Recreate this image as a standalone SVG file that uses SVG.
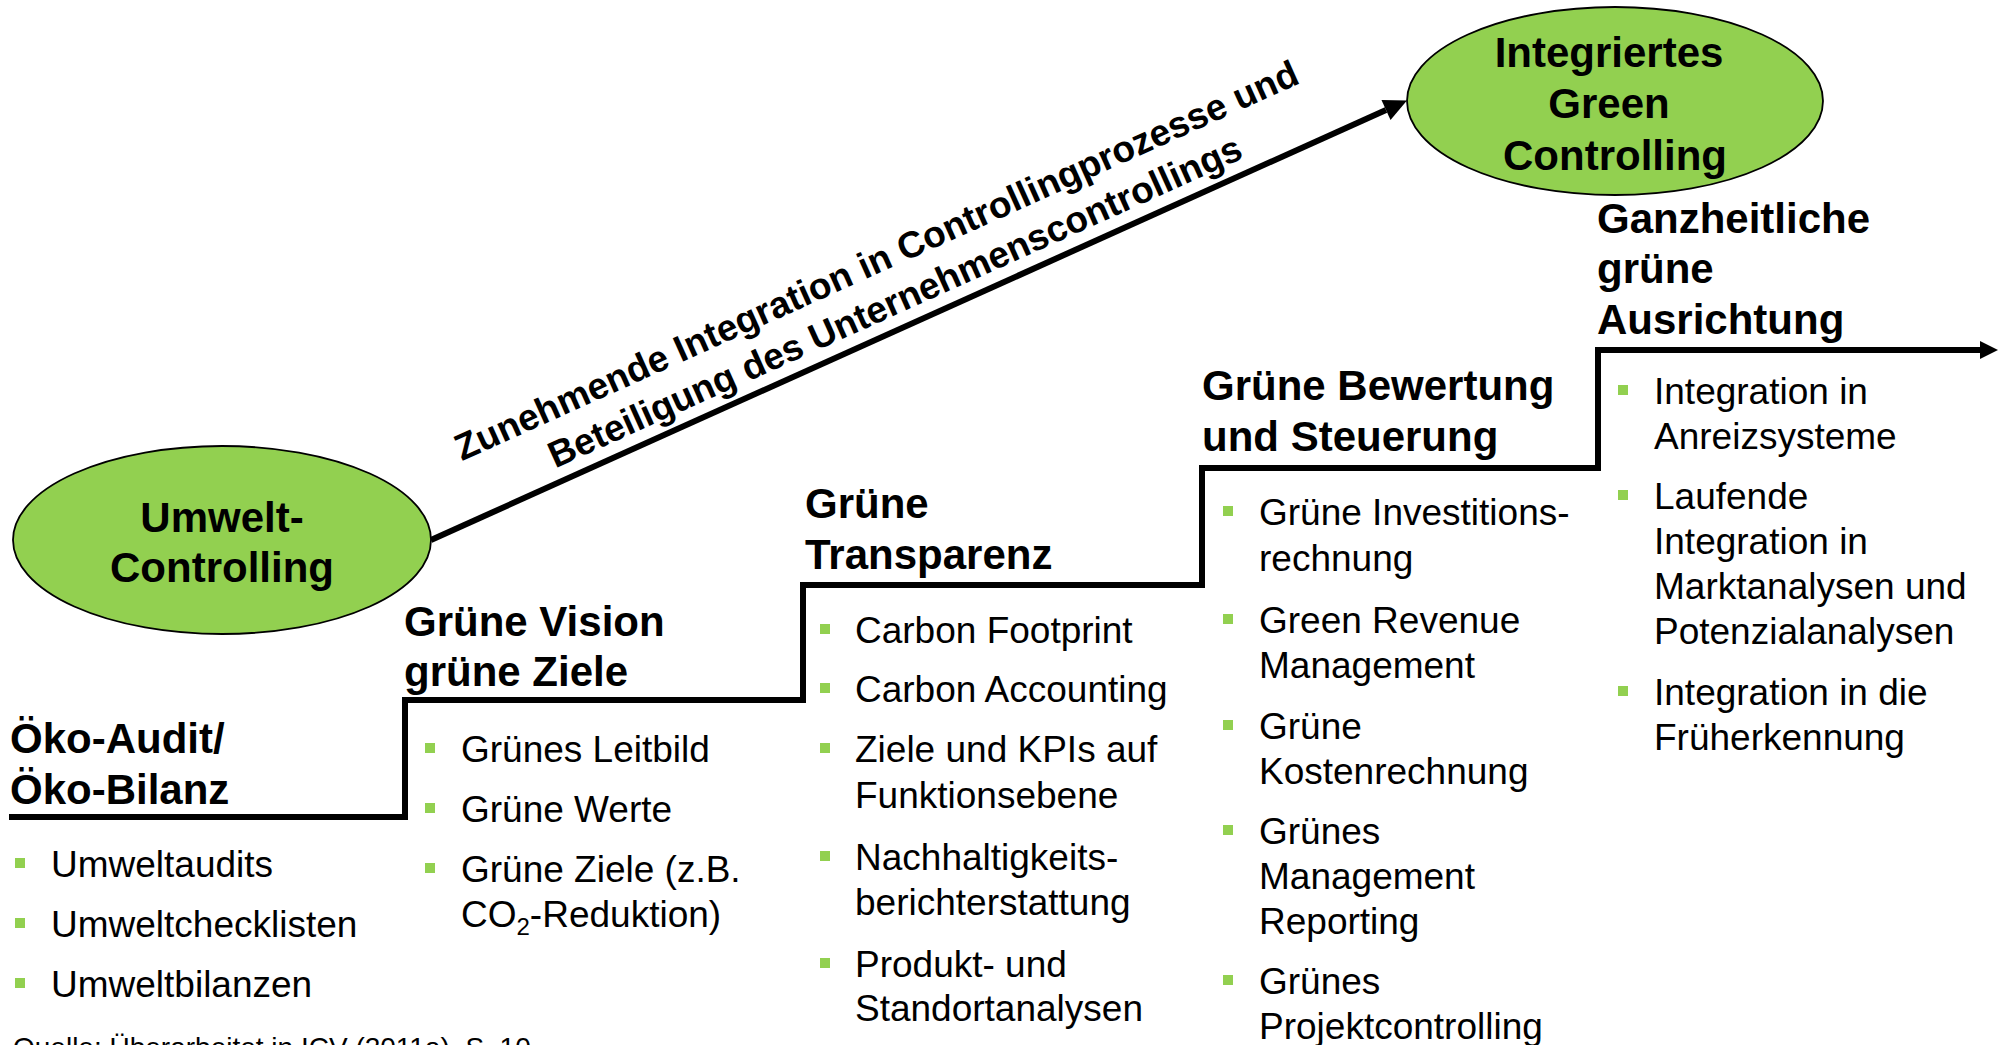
<svg xmlns="http://www.w3.org/2000/svg" width="1998" height="1045" viewBox="0 0 1998 1045">
<style>
text{font-family:"Liberation Sans",Arial,sans-serif;fill:#000}
.h{font-size:42px;font-weight:bold}
.t{font-size:37px}
.d{font-size:37px;font-weight:bold}
.f{font-size:28px}
.bl{fill:#92D050}
.ell{fill:#92D050;stroke:#000;stroke-width:1.8}
.ln{fill:none;stroke:#000;stroke-width:6;stroke-linejoin:miter}
</style>
<defs>
<marker id="ah1" markerUnits="userSpaceOnUse" markerWidth="24" markerHeight="24" refX="0" refY="11" orient="auto" overflow="visible"><path d="M0,0 L23,11 L0,22 z" fill="#000"/></marker>
<marker id="ah2" markerUnits="userSpaceOnUse" markerWidth="20" markerHeight="20" refX="0" refY="9" orient="auto" overflow="visible"><path d="M0,0 L18,9 L0,18 z" fill="#000"/></marker>
</defs>
<rect width="1998" height="1045" fill="#fff"/>

<g id="connectors">
<path class="ln" d="M9 817 H405 V700 H803 V585 H1202 V468 H1598 V350 H1980" marker-end="url(#ah2)"/>
<path class="ln" d="M431 540 L1386 110" marker-end="url(#ah1)"/>
</g>

<g id="label-diagonal" transform="translate(900,313) rotate(-24.27)">
<text class="d" x="0" y="-45" text-anchor="middle">Zunehmende Integration in Controllingprozesse und</text>
<text class="d" x="0" y="0" text-anchor="middle">Beteiligung des Unternehmenscontrollings</text>
</g>

<g id="n-umwelt">
<ellipse class="ell" cx="222" cy="540" rx="209" ry="94"/>
<text class="h" x="222" y="532" text-anchor="middle">Umwelt-</text>
<text class="h" x="222" y="582" text-anchor="middle">Controlling</text>
</g>

<g id="n-integriert">
<ellipse class="ell" cx="1615" cy="101" rx="208" ry="94"/>
<text class="h" x="1609" y="67" text-anchor="middle">Integriertes</text>
<text class="h" x="1609" y="118" text-anchor="middle">Green</text>
<text class="h" x="1615" y="170" text-anchor="middle">Controlling</text>
</g>

<g id="stage1">
<text class="h" x="10" y="753">Öko-Audit/</text>
<text class="h" x="10" y="804">Öko-Bilanz</text>
<rect class="bl" x="15" y="858" width="10" height="10"/>
<text class="t" x="51" y="877">Umweltaudits</text>
<rect class="bl" x="15" y="918" width="10" height="10"/>
<text class="t" x="51" y="937">Umweltchecklisten</text>
<rect class="bl" x="15" y="978" width="10" height="10"/>
<text class="t" x="51" y="997">Umweltbilanzen</text>
</g>

<g id="stage2">
<text class="h" x="404" y="636">Grüne Vision</text>
<text class="h" x="404" y="686">grüne Ziele</text>
<rect class="bl" x="425" y="743" width="10" height="10"/>
<text class="t" x="461" y="762">Grünes Leitbild</text>
<rect class="bl" x="425" y="803" width="10" height="10"/>
<text class="t" x="461" y="822">Grüne Werte</text>
<rect class="bl" x="425" y="863" width="10" height="10"/>
<text class="t" x="461" y="882">Grüne Ziele (z.B.</text>
<text class="t" x="461" y="927">CO<tspan font-size="24" dy="8">2</tspan><tspan dy="-8">-Reduktion)</tspan></text>
</g>

<g id="stage3">
<text class="h" x="805" y="518">Grüne</text>
<text class="h" x="805" y="569">Transparenz</text>
<rect class="bl" x="820" y="624" width="10" height="10"/>
<text class="t" x="855" y="643">Carbon Footprint</text>
<rect class="bl" x="820" y="683" width="10" height="10"/>
<text class="t" x="855" y="702">Carbon Accounting</text>
<rect class="bl" x="820" y="743" width="10" height="10"/>
<text class="t" x="855" y="762">Ziele und KPIs auf</text>
<text class="t" x="855" y="808">Funktionsebene</text>
<rect class="bl" x="820" y="851" width="10" height="10"/>
<text class="t" x="855" y="870">Nachhaltigkeits-</text>
<text class="t" x="855" y="915">berichterstattung</text>
<rect class="bl" x="820" y="958" width="10" height="10"/>
<text class="t" x="855" y="977">Produkt- und</text>
<text class="t" x="855" y="1021">Standortanalysen</text>
</g>

<g id="stage4">
<text class="h" x="1202" y="400">Grüne Bewertung</text>
<text class="h" x="1202" y="451">und Steuerung</text>
<rect class="bl" x="1223" y="506" width="10" height="10"/>
<text class="t" x="1259" y="525">Grüne Investitions-</text>
<text class="t" x="1259" y="571">rechnung</text>
<rect class="bl" x="1223" y="614" width="10" height="10"/>
<text class="t" x="1259" y="633">Green Revenue</text>
<text class="t" x="1259" y="678">Management</text>
<rect class="bl" x="1223" y="720" width="10" height="10"/>
<text class="t" x="1259" y="739">Grüne</text>
<text class="t" x="1259" y="784">Kostenrechnung</text>
<rect class="bl" x="1223" y="825" width="10" height="10"/>
<text class="t" x="1259" y="844">Grünes</text>
<text class="t" x="1259" y="889">Management</text>
<text class="t" x="1259" y="934">Reporting</text>
<rect class="bl" x="1223" y="975" width="10" height="10"/>
<text class="t" x="1259" y="994">Grünes</text>
<text class="t" x="1259" y="1039">Projektcontrolling</text>
</g>

<g id="stage5">
<text class="h" x="1597" y="233">Ganzheitliche</text>
<text class="h" x="1597" y="283">grüne</text>
<text class="h" x="1597" y="334">Ausrichtung</text>
<rect class="bl" x="1618" y="385" width="10" height="10"/>
<text class="t" x="1654" y="404">Integration in</text>
<text class="t" x="1654" y="449">Anreizsysteme</text>
<rect class="bl" x="1618" y="490" width="10" height="10"/>
<text class="t" x="1654" y="509">Laufende</text>
<text class="t" x="1654" y="554">Integration in</text>
<text class="t" x="1654" y="599">Marktanalysen und</text>
<text class="t" x="1654" y="644">Potenzialanalysen</text>
<rect class="bl" x="1618" y="686" width="10" height="10"/>
<text class="t" x="1654" y="705">Integration in die</text>
<text class="t" x="1654" y="750">Früherkennung</text>
</g>

<g id="footer">
<text class="f" x="13" y="1057">Quelle: Überarbeitet in ICV (2011a), S. 10</text>
</g>
</svg>
